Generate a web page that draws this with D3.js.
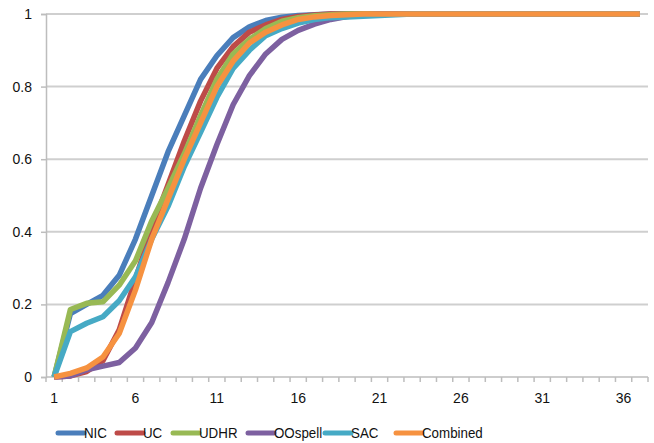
<!DOCTYPE html>
<html><head><meta charset="utf-8">
<script src="https://cdn.jsdelivr.net/npm/d3@7"></script>
<style>
body{margin:0;background:#fff;}
text{font-family:"Liberation Sans",Arial,sans-serif;fill:#111;}
</style></head>
<body><svg id="c" width="654" height="443"></svg>
<script>
const categories = d3.range(1, 38);
const tickLabels = [1, 6, 11, 16, 21, 26, 31, 36];
const yTicks = [0, 0.2, 0.4, 0.6, 0.8, 1];
const seriesNames = ["NIC", "UC", "UDHR", "OOspell", "SAC", "Combined"];
const seriesColors = ["#4A7EBB", "#BE4B48", "#98B954", "#7D60A0", "#46AAC5", "#F69240"];
const ones = n => Array(n).fill(1);
const NIC = [0,0.175,0.2,0.225,0.28,0.38,0.5,0.62,0.72,0.82,0.885,0.935,0.965,0.982,0.991,0.996,0.998].concat(ones(20));
const UC = [0,0.003,0.015,0.045,0.13,0.27,0.41,0.53,0.65,0.76,0.85,0.91,0.95,0.97,0.985,0.993,0.997].concat(ones(20));
const UDHR = [0,0.186,0.203,0.207,0.253,0.32,0.43,0.52,0.615,0.72,0.82,0.89,0.93,0.96,0.98,0.99,0.995,0.998].concat(ones(19));
const OOspell = [0,0.003,0.02,0.03,0.04,0.08,0.15,0.26,0.38,0.52,0.64,0.75,0.83,0.89,0.93,0.955,0.972,0.985,0.993,0.997].concat(ones(17));
const SAC = [0,0.125,0.148,0.166,0.21,0.276,0.38,0.47,0.58,0.674,0.77,0.85,0.9,0.94,0.96,0.975,0.985,0.99,0.992,0.994,0.996,0.998].concat(ones(15));
const Combined = [0,0.01,0.025,0.055,0.12,0.24,0.38,0.49,0.6,0.7,0.8,0.87,0.92,0.95,0.97,0.985,0.992,0.996,0.998].concat(ones(18));
const seriesValues = [NIC, UC, UDHR, OOspell, SAC, Combined];

const svg = d3.select("#c");
const mLeft = 46, mRight = 648, mTop = 14, mBottom = 377;
const x = d3.scaleBand().domain(categories).range([mLeft, mRight]).padding(0);
const y = d3.scaleLinear().domain([0, 1]).range([mBottom, mTop]);

// gridlines
svg.append("g").selectAll("line").data(yTicks.filter(d => d > 0)).join("line")
  .attr("x1", mLeft).attr("x2", mRight).attr("y1", d => y(d)).attr("y2", d => y(d))
  .attr("stroke", "#cfcfcf").attr("stroke-width", 2);

// y axis
const ya = svg.append("g").attr("transform", `translate(${mLeft},0)`)
  .call(d3.axisLeft(y).tickValues(yTicks).tickFormat(d => d === 0 ? "0" : d === 1 ? "1" : d3.format(".1f")(d)).tickSize(5).tickPadding(9));
ya.select(".domain").attr("stroke", "#bdbdbd").attr("stroke-width", 1.5);
ya.selectAll(".tick line").attr("stroke", "#bdbdbd").attr("stroke-width", 1.5);
ya.selectAll("text").attr("font-size", 14).attr("fill", "#111").style("font-family", '"Liberation Sans",Arial,sans-serif');

// x axis
const xa = svg.append("g").attr("transform", `translate(0,${mBottom})`);
xa.append("line").attr("x1", mLeft).attr("x2", mRight).attr("stroke", "#bdbdbd").attr("stroke-width", 1.5);
xa.selectAll("line.tk").data(categories.concat([38])).join("line").attr("class", "tk")
  .attr("x1", d => d <= 37 ? x(d) : mRight).attr("x2", d => d <= 37 ? x(d) : mRight)
  .attr("y1", 0).attr("y2", 5).attr("stroke", "#bdbdbd").attr("stroke-width", 1.5);
xa.selectAll("text").data(tickLabels).join("text")
  .attr("x", d => x(d) + x.bandwidth() / 2).attr("y", 26)
  .attr("text-anchor", "middle").attr("font-size", 14).text(d => d);

// lines
const line = d3.line().x((d, i) => x(categories[i]) + x.bandwidth() / 2).y(d => y(d));
seriesValues.forEach((vals, k) => {
  svg.append("path").datum(vals).attr("d", line).attr("fill", "none")
    .attr("stroke", seriesColors[k]).attr("stroke-width", 5.5)
    .attr("stroke-linejoin", "round").attr("stroke-linecap", "butt");
});

// legend
const legendX = [58, 117, 173, 248, 325, 396];
const lg = svg.append("g");
seriesNames.forEach((n, k) => {
  lg.append("line").attr("x1", legendX[k]).attr("x2", legendX[k] + 26)
    .attr("y1", 433).attr("y2", 433).attr("stroke", seriesColors[k]).attr("stroke-width", 5)
    .attr("stroke-linecap", "round");
  lg.append("text").attr("x", legendX[k] + 26).attr("y", 438.5).attr("font-size", 14.5)
    .attr("transform", `translate(${legendX[k] + 26},0) scale(0.92,1) translate(${-(legendX[k] + 26)},0)`)
    .text(n);
});
</script></body></html>
